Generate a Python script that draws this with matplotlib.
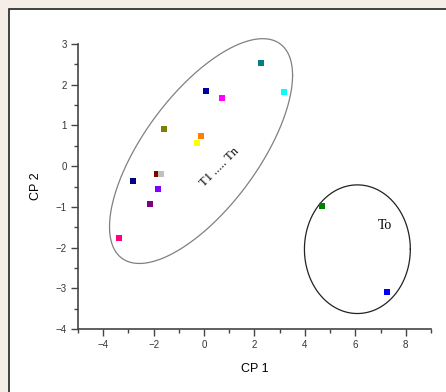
import numpy as np
import matplotlib.pyplot as plt
from matplotlib.patches import Rectangle
from matplotlib.ticker import MultipleLocator

# scores on the first two components
cp1 = [2.26, 0.07, 0.73, 3.17, -1.60, -0.13, -0.28, -1.87, -1.69, -2.82, -1.81, -2.15, -3.36, 4.66, 7.26]
cp2 = [2.53, 1.85, 1.67, 1.83, 0.92, 0.75, 0.58, -0.19, -0.19, -0.36, -0.57, -0.93, -1.76, -0.99, -3.10]
colors = ["#008080", "#0000A0", "#FF00FF", "#00FFFF", "#808000", "#FF8000", "#FFFF00",
          "#800000", "#C0C0C0", "#000080", "#8000FF", "#800080", "#FF0080", "#008000", "#0000FF"]

# group ellipses: center, half extents and x-y coupling (data units)
group1 = dict(cx=-0.12, cy=0.37, a=3.63, c=1.86, d=2.04)
group2 = dict(cx=6.08, cy=-2.04, a=2.10, c=0.0, d=1.58)

fig = plt.figure(figsize=(4.46, 3.92), dpi=100, facecolor="#f4eee7")
fig.patches.append(Rectangle((9 / 446, -0.1), 1.2, 1.1 - 9 / 392, transform=fig.transFigure,
                             facecolor="white", edgecolor="#222222", linewidth=1.2, zorder=-1))

ax = fig.add_axes([78 / 446, 1 - 329 / 392, (431 - 78) / 446, (329 - 44) / 392])
ax.set_zorder(2)
ax.set_facecolor("none")

t = np.linspace(0, 2 * np.pi, 400)
for g, col in ((group1, "#808080"), (group2, "#222222")):
    ex = g["cx"] + g["a"] * np.cos(t)
    ey = g["cy"] + g["c"] * np.cos(t) + g["d"] * np.sin(t)
    ax.plot(ex, ey, color=col, linewidth=0.9, clip_on=False)

for x, y, c in zip(cp1, cp2, colors):
    ax.plot(x, y, marker="s", markersize=5, color=c, markeredgewidth=0, linestyle="none")

ax.text(0.6, -0.02, "T1 ..... Tn", rotation=45, ha="center", va="center",
        fontsize=9, family="Liberation Serif")
ax.text(7.18, -1.45, "To", ha="center", va="center", fontsize=10, family="Liberation Serif")

ax.set_xlim(-5, 9)
ax.set_ylim(-4, 3)
ax.xaxis.set_major_locator(MultipleLocator(2))
ax.xaxis.set_minor_locator(MultipleLocator(1))
ax.yaxis.set_major_locator(MultipleLocator(1))
ax.yaxis.set_minor_locator(MultipleLocator(0.5))
ax.set_xticks([-4, -2, 0, 2, 4, 6, 8])

for s in ("top", "right"):
    ax.spines[s].set_visible(False)
for s in ("left", "bottom"):
    ax.spines[s].set_color("#444444")
    ax.spines[s].set_linewidth(1.2)

ax.tick_params(which="major", direction="out", length=5, width=1, color="#444444",
               labelsize=7, labelcolor="#333333", pad=3)
ax.tick_params(which="minor", direction="out", length=3, width=1, color="#444444")
for lbl in ax.get_xticklabels() + ax.get_yticklabels():
    lbl.set_family("Liberation Sans")

ax.set_xlabel("CP 1", fontsize=9, family="Liberation Sans", labelpad=9)
ax.set_ylabel("CP 2", fontsize=9, family="Liberation Sans", labelpad=10)

fig.savefig("out.png", dpi=100, facecolor=fig.get_facecolor())
